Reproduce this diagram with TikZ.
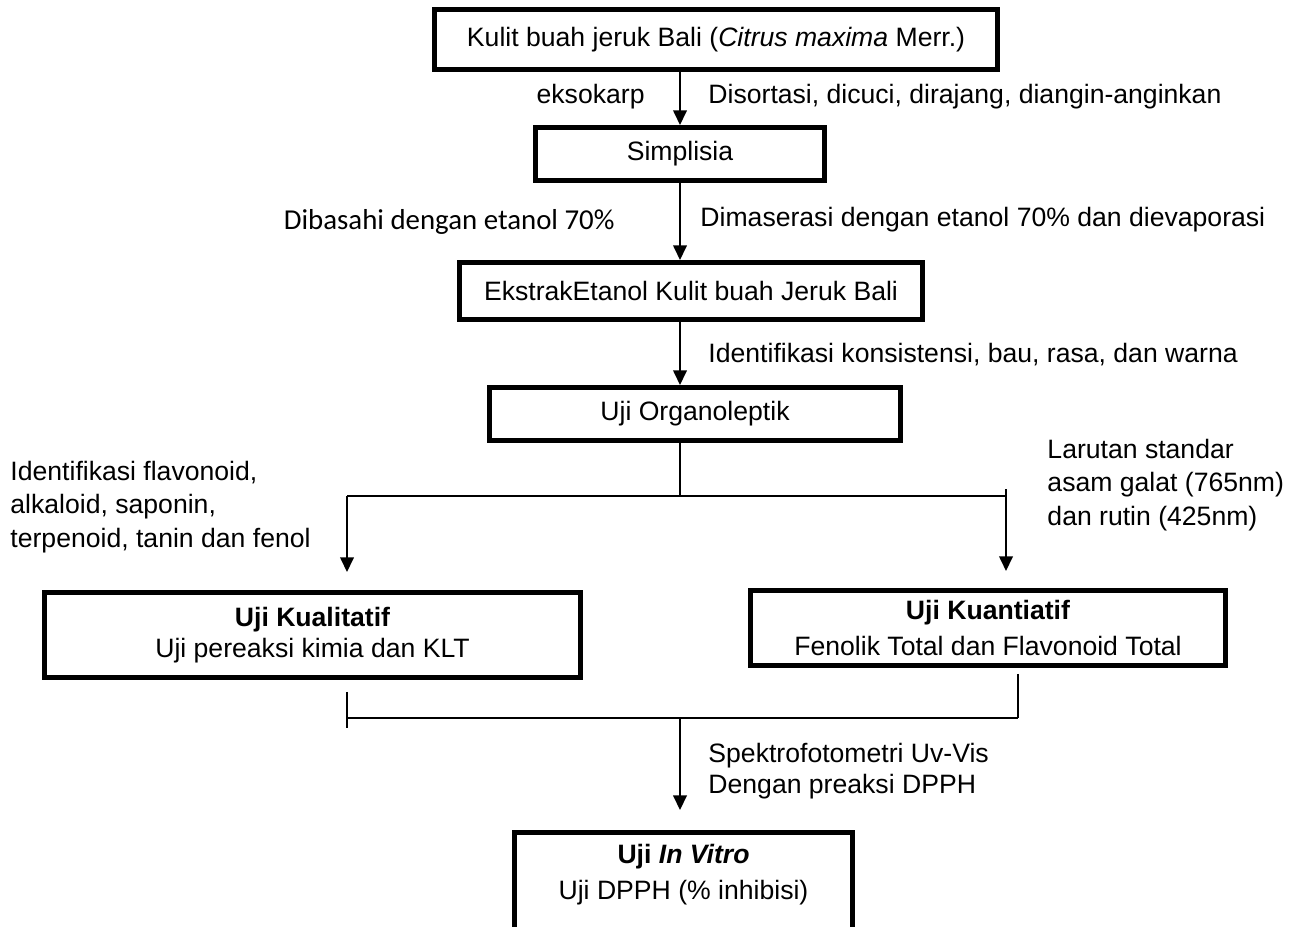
\documentclass[tikz,border=0pt,12pt]{standalone}
\usepackage{fontspec}
\setmainfont{Liberation Sans}
\newfontfamily\calibrifont{Carlito}
\usetikzlibrary{arrows.meta}
\newdimen\px \px=0.0156cm

\begin{document}
\begin{tikzpicture}[x=0.0156cm,y=-0.0156cm,
  frame/.style={line width=2.2pt},
  box/.style={frame,draw,align=center,inner sep=0pt,font=\fontsize{11.8}{16}\selectfont},
  arr/.style={line width=0.9pt,-{Triangle[length=6.5pt,width=6pt]}},
  link/.style={line width=0.7pt},
  note/.style={inner sep=0pt,align=left,font=\fontsize{11.8}{14.8}\selectfont}]
\useasboundingbox (0,0) rectangle (1301,926);
\clip (0,0) rectangle (1301,926);
% boxes
\node[box,minimum width=563\px,minimum height=60\px] (kulit) at (716,39.5) {Kulit buah jeruk Bali (\textit{Citrus maxima} Merr.)};
\node[box,minimum width=289\px,minimum height=53\px] (simplisia) at (680,154) {Simplisia};
\node[box,minimum width=463\px,minimum height=57\px] (ekstrak) at (691,291) {EkstrakEtanol Kulit buah Jeruk Bali};
\node[box,minimum width=411\px,minimum height=53\px] (organo) at (695,414) {Uji Organoleptik};
\node[box,minimum width=536\px,minimum height=85\px,font=\fontsize{11.8}{13.5}\selectfont] (kual) at (312.5,635) {\textbf{Uji Kualitatif}\\Uji pereaksi kimia dan KLT};
\node[box,minimum width=475\px,minimum height=75\px] (kuan) at (988,628) {\textbf{Uji Kuantiatif}\\Fenolik Total dan Flavonoid Total};
\node[align=center,inner sep=0pt,minimum width=338\px,minimum height=85\px,font=\fontsize{11.8}{16}\selectfont] (vitro) at (683.5,875) {\textbf{Uji \textit{In Vitro}}\\Uji DPPH (\% inhibisi)};
\draw[frame] ([yshift=-40\px]vitro.south west) -- (vitro.north west) -- (vitro.north east) -- ([yshift=-40\px]vitro.south east);
% labels
\node[note,anchor=east] (eksokarp) at (645,97) {eksokarp};
\node[note,anchor=west] (sortasi) at (708,97) {Disortasi, dicuci, dirajang, diangin-anginkan};
\node[note,anchor=east,font=\calibrifont\fontsize{12.8}{15}\selectfont] (basah) at (615,222) {Dibasahi dengan etanol 70\%};
\node[note,anchor=west] (maserasi) at (700,220) {Dimaserasi dengan etanol 70\% dan dievaporasi};
\node[note,anchor=west] (sensori) at (708,355) {Identifikasi konsistensi, bau, rasa, dan warna};
\node[note,anchor=west] (senyawa) at (10,507) {Identifikasi flavonoid,\\alkaloid, saponin,\\terpenoid, tanin dan fenol};
\node[note,anchor=west] (standar) at (1047,485) {Larutan standar\\asam galat (765nm)\\dan rutin (425nm)};
\node[note,anchor=west,font=\fontsize{11.8}{14}\selectfont] (spektro) at (708,771) {Spektrofotometri Uv-Vis\\Dengan preaksi DPPH};
% connectors
\draw[arr] (kulit.south -| simplisia.north) -- (simplisia.north);
\draw[arr] (simplisia.south) -- (simplisia.south |- ekstrak.north);
\draw[arr] (ekstrak.south -| simplisia) -- (simplisia |- organo.north);
\coordinate (fork) at (680,496);
\coordinate (forkL) at (347,496);
\coordinate (forkR) at (1006,496);
\draw[link] (organo.south -| fork) -- (fork);
\draw[link] (forkL) -- (forkR);
\draw[arr,shorten >=18\px] (forkL) -- (forkL |- kual.north);
\draw[arr,shorten >=17\px,shorten <=-7\px] (forkR) -- (forkR |- kuan.north);
\coordinate (join) at (680,718);
\coordinate (joinL) at (347,718);
\coordinate (joinR) at (1018,718);
\draw[link,shorten <=12\px,shorten >=-10\px] (kual.south -| joinL) -- (joinL);
\draw[link,shorten <=6\px] (kuan.south -| joinR) -- (joinR);
\draw[link] (joinL) -- (joinR);
\draw[arr,shorten >=22\px] (join) -- (join |- vitro.north);
\end{tikzpicture}
\end{document}
